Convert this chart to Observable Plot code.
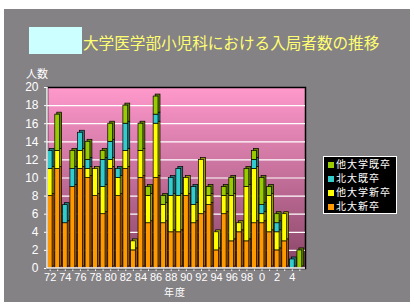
<!DOCTYPE html>
<html>
<head>
<meta charset="utf-8">
<script src="https://cdn.jsdelivr.net/npm/d3@7"></script>
<script src="https://cdn.jsdelivr.net/npm/@observablehq/plot@0.6"></script>
<style>
  html, body { margin: 0; padding: 0; background: #ffffff; }
  #wrap { position: relative; width: 414px; height: 307px; overflow: hidden; background: #ffffff; }
  #bg { position: absolute; left: 4px; top: 9px; width: 406px; height: 293px; background: #858286; }
  #hidebox { position: absolute; left: 29px; top: 27px; width: 53px; height: 27px; background: #ccffff; }
  #title { position: absolute; left: 83px; top: 32px; font-family: "Noto Sans CJK JP", sans-serif; font-size: 15.6px; line-height: 20px; color: #ffff70; white-space: nowrap; }
  #ylab { position: absolute; left: 26px; top: 66px; font-family: "Noto Sans CJK JP", sans-serif; font-size: 11px; line-height: 14px; color: #ffffff; }
  #xlab { position: absolute; left: 164px; top: 285px; font-family: "Noto Sans CJK JP", sans-serif; font-size: 10px; line-height: 14px; color: #ffffff; letter-spacing: 1px; }
  #chart { position: absolute; left: 0; top: 0; }
  #legend { position: absolute; left: 323px; top: 156px; width: 72px; height: 56px; background: #000; border: 1px solid #fff; font-family: "Noto Sans CJK JP", sans-serif; font-size: 10px; color: #fff; }
  .row { position: absolute; left: 4px; height: 14px; line-height: 14px; white-space: nowrap; letter-spacing: 1px; }
  .sw { display: inline-block; width: 6px; height: 6px; margin-right: 2px; vertical-align: 0px; }
</style>
</head>
<body>
<div id="wrap">
  <div id="bg"></div>
  <div id="hidebox"></div>
  <div id="title">大学医学部小児科における入局者数の推移</div>
  <div id="ylab">人数</div>
  <div id="xlab">年度</div>
  <div id="chart"></div>
  <div id="legend"></div>
</div>
<script>
// ---- data ----
const years = [1972,1973,1974,1975,1976,1977,1978,1979,1980,1981,1982,1983,1984,1985,1986,1987,1988,1989,1990,1991,1992,1993,1994,1995,1996,1997,1998,1999,2000,2001,2002,2003,2004,2005];
const seriesNames = ["北大新卒","他大学新卒","北大既卒","他大学既卒"];
const hokudaiShinsotsu = [8,11,5,9,11,10,8,6,11,8,11,2,10,5,10,5,4,4,8,5,6,7,2,6,3,4,3,5,5,4,2,3,0,0];
const tadaiShinsotsu   = [3,2,0,0,2,1,3,3,1,2,2,1,3,3,6,2,4,4,2,2,6,1,2,2,5,1,6,6,1,4,2,3,0,0];
const hokudaiKisotsu   = [2,0,2,2,2,1,0,3,2,1,3,0,0,0,1,0,2,3,0,2,0,0,0,0,0,0,0,1,1,0,1,0,1,0];
const tadaiKisotsu     = [0,4,0,2,0,2,0,1,2,0,2,0,3,1,2,1,0,0,0,0,0,1,0,1,2,0,2,1,3,1,1,0,0,2];
const yTicks = [0,2,4,6,8,10,12,14,16,18,20];
const legendOrder = ["他大学既卒","北大既卒","他大学新卒","北大新卒"];

const frontColor = {"北大新卒":"#ff9900","他大学新卒":"#ffff00","北大既卒":"#33cccc","他大学既卒":"#99cc00"};
const sideColor  = {"北大新卒":"#a35a00","他大学新卒":"#999900","北大既卒":"#1f7a7a","他大学既卒":"#5f7f00"};

const seriesValues = [hokudaiShinsotsu, tadaiShinsotsu, hokudaiKisotsu, tadaiKisotsu];
const rows = [];
seriesNames.forEach((s, i) => years.forEach((yr, j) => rows.push({year: yr, series: s, value: seriesValues[i][j]})));

function gradientDefs() {
  const d = d3.create("svg:defs");
  const g = d.append("linearGradient").attr("id", "plotbg").attr("x1", 0).attr("y1", 0).attr("x2", 0).attr("y2", 1);
  g.append("stop").attr("offset", "0%").attr("stop-color", "#ff99cc");
  g.append("stop").attr("offset", "100%").attr("stop-color", "#874466");
  return d.node();
}
function leftBottomLines(index, scales, values, dims) {
  const g = d3.create("svg:g").attr("stroke", "white").attr("stroke-width", 1.5);
  const x0 = dims.marginLeft, y0 = dims.marginTop, y1 = dims.height - dims.marginBottom, x1 = dims.width - dims.marginRight;
  g.append("line").attr("x1", x0).attr("x2", x0).attr("y1", y0).attr("y2", y1);
  g.append("line").attr("x1", x0).attr("x2", x1).attr("y1", y1).attr("y2", y1);
  return g.node();
}

const stackOpts = {x: "year", y: "value", order: seriesNames};

const chart = Plot.plot({
  width: 414,
  height: 307,
  marginLeft: 47,
  marginRight: 109,
  marginTop: 87,
  marginBottom: 39,
  style: {background: "transparent", color: "white", fontFamily: "'Liberation Sans', Arial, sans-serif", fontSize: "12px"},
  x: {type: "band", domain: years, range: [47, 302], round: false, paddingInner: 0.36, paddingOuter: 0.03, label: null,
      tickSize: 3, tickPadding: 2, tickFormat: d => (d % 2 === 0 ? String(d % 100) : "")},
  y: {domain: [0, 20], ticks: yTicks, tickSize: 3, label: null},
  color: {type: "identity"},
  marks: [
    gradientDefs,
    Plot.frame({fill: "url(#plotbg)", stroke: "black", strokeWidth: 1.5}),
    Plot.ruleY(yTicks.filter(v => v > 0 && v < 20), {stroke: "white", strokeWidth: 1.2}),
    Plot.barY(rows, Plot.stackY({...stackOpts, fill: d => sideColor[d.series], stroke: "black", strokeWidth: 0.7, dx: 2, dy: -2})),
    Plot.barY(rows, Plot.stackY({...stackOpts, fill: d => frontColor[d.series], stroke: "black", strokeWidth: 0.7})),
    leftBottomLines
  ]
});
document.getElementById("chart").appendChild(chart);
chart.querySelectorAll("g[aria-label='x-axis tick label'] text").forEach(t => t.setAttribute("font-size", "11px"));

const legend = document.getElementById("legend");
legendOrder.forEach((s, i) => {
  const r = document.createElement("div");
  r.className = "row";
  r.style.top = (i * 14) + "px";
  r.innerHTML = `<span class="sw" style="background:${frontColor[s]}"></span>${s}`;
  legend.appendChild(r);
});
</script>
</body>
</html>
